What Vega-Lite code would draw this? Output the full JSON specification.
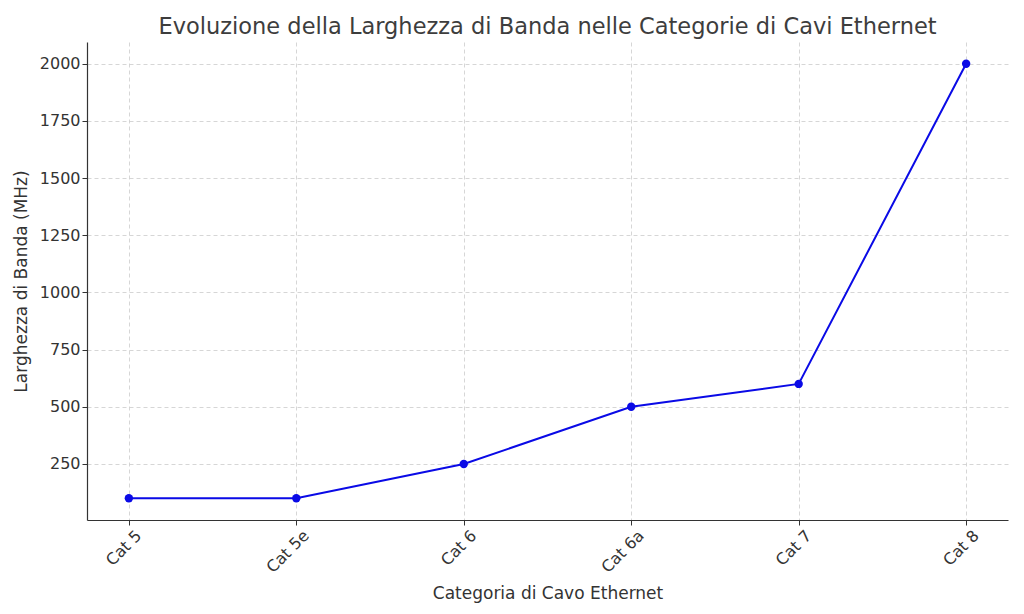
{
  "$schema": "https://vega.github.io/schema/vega-lite/v6.json",
  "autosize": "none",
  "padding": {"left": 87, "top": 42, "right": 16, "bottom": 94},
  "width": 921,
  "height": 478,
  "background": "white",
  "title": {
    "text": "Evoluzione della Larghezza di Banda nelle Categorie di Cavi Ethernet",
    "font": "DejaVu Sans",
    "fontSize": 22.5,
    "fontWeight": "normal",
    "color": "#3d3d3d",
    "anchor": "middle",
    "offset": 4
  },
  "data": {
    "values": [
      {"categoria": "Cat 5", "banda": 100},
      {"categoria": "Cat 5e", "banda": 100},
      {"categoria": "Cat 6", "banda": 250},
      {"categoria": "Cat 6a", "banda": 500},
      {"categoria": "Cat 7", "banda": 600},
      {"categoria": "Cat 8", "banda": 2000}
    ]
  },
  "mark": {"type": "line", "color": "#0a0ae6", "strokeWidth": 2, "point": {"filled": true, "size": 70, "color": "#0a0ae6", "opacity": 1}},
  "encoding": {
    "x": {
      "field": "categoria",
      "type": "nominal",
      "sort": null,
      "scale": {"type": "point", "padding": 0.25},
      "axis": {
        "title": "Categoria di Cavo Ethernet",
        "labelAngle": -45,
        "labelAlign": "right",
        "labelBaseline": "top",
        "labelPadding": 2,
        "labelOffset": 4,
        "titlePadding": 10
      }
    },
    "y": {
      "field": "banda",
      "type": "quantitative",
      "scale": {"domain": [5, 2095], "nice": false, "zero": false},
      "axis": {
        "title": "Larghezza di Banda (MHz)",
        "values": [250, 500, 750, 1000, 1250, 1500, 1750, 2000],
        "format": "d",
        "titlePadding": 9
      }
    }
  },
  "config": {
    "view": {"stroke": null},
    "axis": {
      "labelFont": "DejaVu Sans",
      "titleFont": "DejaVu Sans",
      "labelFontSize": 16,
      "titleFontSize": 17,
      "titleFontWeight": "normal",
      "labelColor": "#333333",
      "titleColor": "#333333",
      "domainColor": "#333333",
      "domainWidth": 1.2,
      "tickColor": "#333333",
      "tickSize": 5,
      "grid": true,
      "gridColor": "#cccccc",
      "gridDash": [4, 3],
      "gridWidth": 0.8
    }
  }
}
